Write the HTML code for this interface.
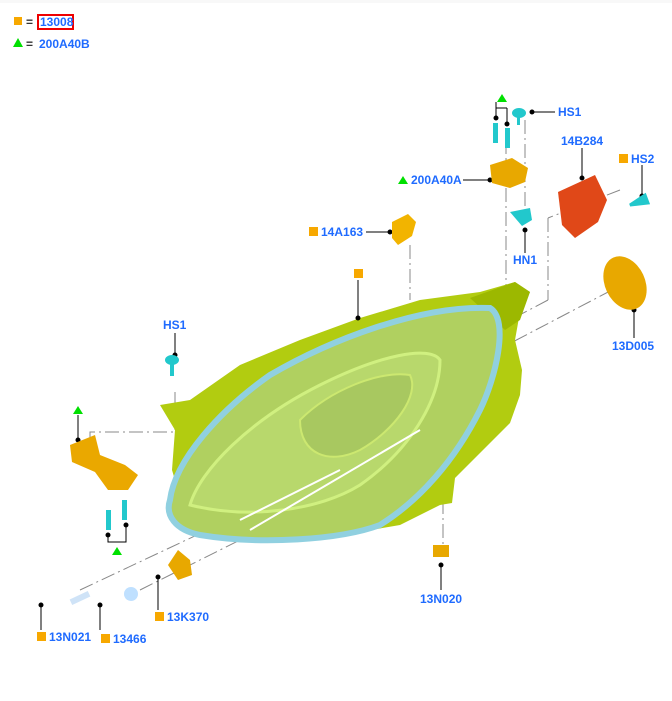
<!DOCTYPE html>
<html><head><meta charset="utf-8"><style>
html,body{margin:0;padding:0;background:#fff;}
svg{display:block}
text{font-family:"Liberation Sans",Arial,sans-serif;font-weight:bold;font-size:12px;fill:#1f6bff;}
</style></head><body>
<svg width="672" height="701" viewBox="0 0 672 701" xmlns="http://www.w3.org/2000/svg">
<rect x="0" y="0" width="672" height="3" fill="#f8f8f8"/>
<rect x="14" y="17" width="8" height="8" fill="#f7a800"/>
<text x="26" y="26" style="fill:#333">=</text>
<rect x="38" y="15" width="35" height="14" fill="none" stroke="#e00" stroke-width="2"/>
<text x="40" y="26">13008</text>
<polygon points="18,38 23,47 13,47" fill="#00e000"/>
<text x="26" y="48" style="fill:#333">=</text>
<text x="39" y="48">200A40B</text>

<g fill="none" stroke="#888" stroke-width="1" stroke-dasharray="14,4,2,4">
<path d="M175,392 V432 H90 V445"/>
<path d="M410,245 V300"/>
<path d="M506,140 V330"/>
<path d="M525,120 V220"/>
<path d="M548,218 V300"/>
<path d="M548,300 L510,320"/>
<path d="M620,190 L548,218"/>
<path d="M612,290 L440,380"/>
<path d="M80,590 L420,430"/>
<path d="M140,590 L420,450"/>
<path d="M443,500 V545"/>
</g>

<!-- housing -->
<path d="M160,405 L190,400 L240,365 L300,340 L360,318 L420,300 L480,292 L515,282 L530,292 L520,312 L515,340 L522,370 L520,395 L510,423 L483,450 L455,478 L452,503 L440,505 L400,525 L330,537 L250,540 L190,530 L172,470 L175,430 Z" fill="#b2cc10"/>
<path d="M470,298 L515,282 L530,292 L520,320 L505,330 Z" fill="#9cb800"/>
<!-- lens -->
<path d="M170,500 C175,460 220,410 270,375 C330,340 420,305 490,308 C510,320 495,380 480,410 C455,460 420,500 380,525 C340,540 260,545 200,535 C175,530 165,515 170,500 Z" fill="#b0d060" stroke="#90d0e0" stroke-width="6"/>
<path d="M190,505 C200,470 250,420 320,385 C380,355 430,345 440,360 C440,400 410,450 360,485 C320,510 250,520 190,505 Z" fill="#b8d86c" stroke="#d0f080" stroke-width="3"/>
<path d="M300,420 C330,390 380,370 410,375 C420,395 395,430 360,450 C330,465 300,455 300,420 Z" fill="#a8c860" stroke="#cce870" stroke-width="2"/>
<line x1="240" y1="520" x2="340" y2="470" stroke="#fff" stroke-width="2"/>
<line x1="250" y1="530" x2="420" y2="430" stroke="#fff" stroke-width="2"/>

<g stroke="#000" stroke-width="1" fill="#000">
<line x1="358" y1="280" x2="358" y2="318"/><circle cx="358" cy="318" r="2"/>
<line x1="366" y1="232" x2="390" y2="232"/><circle cx="390" cy="232" r="2"/>
<line x1="463" y1="180" x2="490" y2="180"/><circle cx="490" cy="180" r="2"/>
<line x1="530" y1="112" x2="555" y2="112"/><circle cx="532" cy="112" r="2"/>
<path d="M496,102 V108 M496,108 H507 M496,108 V118 M507,108 V124" fill="none"/><circle cx="496" cy="118" r="2"/><circle cx="507" cy="124" r="2"/>
<line x1="525" y1="230" x2="525" y2="253"/><circle cx="525" cy="230" r="2"/>
<line x1="582" y1="148" x2="582" y2="178"/><circle cx="582" cy="178" r="2"/>
<line x1="642" y1="165" x2="642" y2="196"/><circle cx="642" cy="196" r="2"/>
<line x1="634" y1="310" x2="634" y2="338"/><circle cx="634" cy="310" r="2"/>
<line x1="175" y1="333" x2="175" y2="355"/><circle cx="175" cy="355" r="2"/>
<line x1="78" y1="415" x2="78" y2="440"/><circle cx="78" cy="440" r="2"/>
<path d="M108,535 V542 H126 V525" fill="none"/><circle cx="108" cy="535" r="2"/><circle cx="126" cy="525" r="2"/>
<line x1="41" y1="605" x2="41" y2="630"/><circle cx="41" cy="605" r="2"/>
<line x1="100" y1="605" x2="100" y2="630"/><circle cx="100" cy="605" r="2"/>
<line x1="158" y1="577" x2="158" y2="610"/><circle cx="158" cy="577" r="2"/>
<line x1="441" y1="565" x2="441" y2="590"/><circle cx="441" cy="565" r="2"/>
</g>

<path d="M392,222 L408,214 L416,222 L412,236 L398,245 L392,238 Z" fill="#f2b400"/>
<path d="M490,165 L512,158 L528,168 L525,182 L510,188 L492,183 Z" fill="#e8a800"/>
<path d="M510,212 L530,208 L532,220 L522,226 Z" fill="#22c8cc"/>
<ellipse cx="519" cy="113" rx="7" ry="5" fill="#22c8cc"/><rect x="517" y="115" width="3" height="10" fill="#22c8cc"/>
<rect x="493" y="123" width="5" height="20" fill="#22c8cc"/><rect x="505" y="128" width="5" height="20" fill="#22c8cc"/>
<path d="M558,192 L595,175 L607,200 L598,222 L575,238 L562,225 Z" fill="#e04818"/>
<path d="M630,205 L645,195 L648,203 Z" fill="#22c8cc" stroke="#22c8cc" stroke-width="3"/>
<ellipse cx="625" cy="283" rx="20" ry="28" transform="rotate(-25 625 283)" fill="#e8a800"/>
<ellipse cx="172" cy="360" rx="7" ry="5" fill="#22c8cc"/><rect x="170" y="362" width="4" height="14" fill="#22c8cc"/>
<path d="M70,445 L95,435 L100,455 L125,465 L138,475 L128,490 L108,490 L95,472 L72,462 Z" fill="#eaa800"/>
<rect x="106" y="510" width="5" height="20" fill="#22c8cc"/><rect x="122" y="500" width="5" height="20" fill="#22c8cc"/>
<path d="M168,565 L178,550 L190,560 L192,575 L178,580 Z" fill="#e8a800"/>
<circle cx="131" cy="594" r="7" fill="#bfe0ff"/>
<rect x="70" y="595" width="20" height="6" fill="#cfe3f7" transform="rotate(-25 80 598)"/>
<rect x="433" y="545" width="16" height="12" fill="#e8a800"/>

<g fill="#00e000">
<polygon points="502,94 507,102 497,102"/>
<polygon points="403,176 408,184 398,184"/>
<polygon points="78,406 83,414 73,414"/>
<polygon points="117,547 122,555 112,555"/>
</g>
<g fill="#f7a800">
<rect x="354" y="269" width="9" height="9"/>
<rect x="309" y="227" width="9" height="9"/>
<rect x="619" y="154" width="9" height="9"/>
<rect x="155" y="612" width="9" height="9"/>
<rect x="37" y="632" width="9" height="9"/>
<rect x="101" y="634" width="9" height="9"/>
</g>

<text x="558" y="116">HS1</text>
<text x="411" y="184">200A40A</text>
<text x="321" y="236">14A163</text>
<text x="561" y="145">14B284</text>
<text x="631" y="163">HS2</text>
<text x="513" y="264">HN1</text>
<text x="612" y="350">13D005</text>
<text x="163" y="329">HS1</text>
<text x="167" y="621">13K370</text>
<text x="420" y="603">13N020</text>
<text x="49" y="641">13N021</text>
<text x="113" y="643">13466</text>
</svg>
</body></html>
